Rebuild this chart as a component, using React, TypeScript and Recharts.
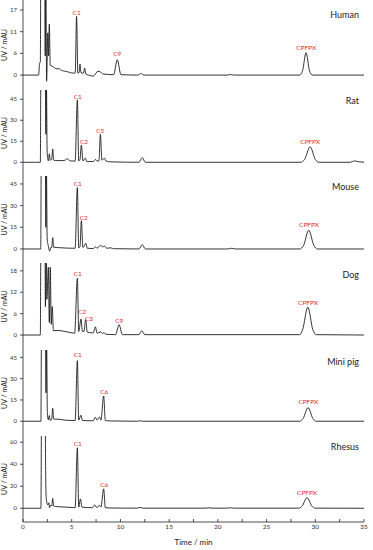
import React from 'react';
import { LineChart, Line, XAxis, YAxis, ReferenceDot } from 'recharts';

// chromatogram traces: [time (min), UV (mAU)]
const humanTrace = [
  [0, 0], [1.6, 0], [1.7, 3], [1.78, 3.5], [1.84, 40], [2.2, 40], [2.28, 5], [2.34, 30], [2.42, -1.6],
  [2.55, 11], [2.62, 5], [2.7, 13.3], [2.8, 2.5], [3.0, 2.3], [3.5, 1.6], [3.7, 1.7], [3.9, 1.3],
  [4.5, 0.9], [5.2, 0.5], [5.36, 0.6], [5.5, 15.3], [5.63, 0.5], [5.75, 0.6], [5.85, 2.9], [5.95, 0.6],
  [6.2, 0.5], [6.33, 1.8], [6.45, 0.3], [7.0, -0.2], [7.2, -0.3], [7.7, 1.0], [7.9, 0.9], [8.2, 0.3],
  [9.3, 0.1], [9.68, 4.0], [10.05, 0.1], [11.8, 0], [12.1, 0.4], [12.4, 0], [21, 0], [21.3, 0.15],
  [21.6, 0], [28.4, 0], [28.7, 1.2], [29.05, 5.85], [29.4, 1.2], [29.7, 0], [35, 0],
];
const ratTrace = [
  [0, 0], [1.78, 0], [1.84, 70], [2.28, 70], [2.35, 20], [2.4, 60], [2.48, 7], [2.6, 1], [2.7, 6],
  [2.8, 1.5], [2.95, 2], [3.05, 9.5], [3.15, 1.5], [3.5, 1.2], [4.2, 1.2], [4.58, 2.5], [4.8, 1],
  [5.35, 0.8], [5.58, 44.5], [5.72, 1], [5.85, 2], [5.99, 12.3], [6.15, 1], [6.4, 3], [6.55, 0.5],
  [7.2, 0.5], [7.46, 2], [7.6, 0.8], [7.8, 1], [7.94, 20], [8.1, 1.5], [8.35, 3], [8.5, 1], [9.0, 0.3],
  [11.9, 0], [12.25, 3.3], [12.55, 0], [28.5, 0], [28.9, 2], [29.47, 11], [30.0, 2], [30.4, 0],
  [33.6, 0], [34, 1], [34.5, 0.3], [35, 0],
];
const mouseTrace = [
  [0, 0], [1.82, 0], [1.88, 70], [2.28, 70], [2.35, 15], [2.4, 60], [2.48, 7.4], [2.6, 2], [2.75, -1.5],
  [2.85, 1], [2.95, 1], [3.05, 7.8], [3.15, 1.2], [4.0, 0.8], [4.5, 0.6], [5.35, 0.5], [5.58, 42.5],
  [5.72, 0.8], [5.85, 1.5], [5.99, 19.6], [6.15, 1], [6.45, 3.9], [6.6, 0.5], [7.2, 0.3], [7.45, 1.5],
  [7.6, 0.5], [7.95, 2.5], [8.15, 1.5], [8.35, 2], [8.6, 0.5], [9.0, 0.8], [9.3, 0.2], [11.9, 0],
  [12.25, 3], [12.55, 0], [21, 0], [21.4, 0.5], [21.8, 0], [28.4, 0], [28.8, 2.5], [29.33, 13],
  [29.85, 2.5], [30.2, 0], [35, 0],
];
const dogTrace = [
  [0, 0], [1.78, 0], [1.84, 30], [2.25, 30], [2.3, 8], [2.38, 30], [2.45, 10], [2.6, 19], [2.7, 3.5],
  [2.8, 19], [2.9, 3], [3.0, 8], [3.12, 1.2], [3.5, 1.3], [4.5, 0.9], [5.3, 0.5], [5.58, 15.9],
  [5.72, 1], [5.95, 4.5], [6.1, 1], [6.25, 1], [6.43, 4.3], [6.6, 0.8], [7.2, 0.6], [7.43, 2.3],
  [7.6, 0.5], [7.98, 0.9], [8.15, 0.4], [8.3, 0.7], [8.5, 0.2], [9.5, 0.1], [9.86, 2.9], [10.2, 0.1],
  [11.9, 0.1], [12.2, 1.2], [12.5, 0.1], [28.4, 0.1], [28.7, 1.5], [29.23, 7.8], [29.75, 1.5],
  [30.1, 0.1], [35, 0],
];
const miniPigTrace = [
  [0, 0], [1.84, 0], [1.9, 70], [2.3, 70], [2.36, 20], [2.42, 60], [2.5, 6], [2.6, 1], [2.7, 4],
  [2.8, 0.5], [2.95, 1.5], [3.05, 9.2], [3.15, 1.5], [3.5, 1.5], [4.3, 0.8], [5.35, 0.5], [5.58, 42.7],
  [5.72, 0.8], [5.95, 4.2], [6.1, 0.5], [7.2, 0.3], [7.43, 2.8], [7.6, 0.8], [7.85, 3], [8.0, 0.8],
  [8.28, 17.8], [8.45, 0.5], [9, 0.2], [11.7, 0], [12.0, 0.3], [12.3, 0], [28.4, 0], [28.75, 2],
  [29.26, 9.6], [29.75, 2], [30.1, 0], [35, 0],
];
const rhesusTrace = [
  [0, 0], [1.84, 0], [1.9, 80], [2.28, 80], [2.33, 28.8], [2.38, 10], [2.45, 5], [2.55, 3], [2.65, 5],
  [2.72, 0.5], [2.85, 3], [2.95, 2], [3.05, 9], [3.15, 2], [3.5, 1.5], [4.5, 1], [5.35, 0.5], [5.58, 55],
  [5.72, 1], [5.9, 8.5], [6.05, 1], [7.1, 0.5], [7.36, 3], [7.55, 0.8], [7.87, 2.5], [8.0, 1],
  [8.28, 17.6], [8.45, 0.5], [9, 0.2], [11.7, 0.1], [12.0, 0.7], [12.3, 0.1], [18.8, 0.1], [19.1, 0.4],
  [19.4, 0.1], [21, 0.1], [21.3, 0.5], [21.6, 0.1], [28.3, 0.1], [28.65, 2], [29.15, 9.7], [29.65, 2],
  [30, 0.1], [35, 0],
];

// peak labels (centre of label text, in data units)
const humanLabels = [{ name: 'C1', t: 5.51, v: 16.3 }, { name: 'C9', t: 9.68, v: 5.5 }, { name: 'CPFPX', t: 29.06, v: 7.1 }];
const ratLabels = [{ name: 'C1', t: 5.62, v: 46.9 }, { name: 'C2', t: 6.26, v: 14.5 }, { name: 'C5', t: 7.94, v: 22.6 }, { name: 'CPFPX', t: 29.47, v: 14.7 }];
const mouseLabels = [{ name: 'C1', t: 5.62, v: 45 }, { name: 'C2', t: 6.23, v: 21.7 }, { name: 'CPFPX', t: 29.36, v: 16.6 }];
const dogLabels = [{ name: 'C1', t: 5.62, v: 17.2 }, { name: 'C2', t: 6.06, v: 6.5 }, { name: 'C3', t: 6.78, v: 4.7 }, { name: 'C9', t: 9.89, v: 4.1 }, { name: 'CPFPX', t: 29.26, v: 9.2 }];
const miniPigLabels = [{ name: 'C1', t: 5.62, v: 46.7 }, { name: 'C6', t: 8.35, v: 20.8 }, { name: 'CPFPX', t: 29.29, v: 14.1 }];
const rhesusLabels = [{ name: 'C1', t: 5.62, v: 59 }, { name: 'C6', t: 8.35, v: 21.2 }, { name: 'CPFPX', t: 29.16, v: 14.2 }];

// ticks
const timeTicks = [0, 2.5, 5, 7.5, 10, 12.5, 15, 17.5, 20, 22.5, 25, 27.5, 30, 32.5, 35];
const humanTicks = [0, 17 / 3, 34 / 3, 17];
const ratTicks = [0, 15, 30, 45];
const mouseTicks = [0, 15, 30, 45];
const dogTicks = [0, 6, 12, 18];
const miniPigTicks = [0, 15, 30, 45];
const rhesusTicks = [0, 20, 40, 60];

const FONT = 'Lato, "Open Sans", sans-serif';
const RED = '#e8262d';
const INK = '#222';

const panels = [
  { name: 'Human', trace: humanTrace, ticks: humanTicks, labels: humanLabels, domain: [-3.9, 19.6], top: 0, height: 90, nameY: 15 },
  { name: 'Rat', trace: ratTrace, ticks: ratTicks, labels: ratLabels, domain: [-9.8, 51.6], top: 90, height: 86, nameY: 101 },
  { name: 'Mouse', trace: mouseTrace, ticks: mouseTicks, labels: mouseLabels, domain: [-9.7, 50.5], top: 176, height: 87, nameY: 187 },
  { name: 'Dog', trace: dogTrace, ticks: dogTicks, labels: dogLabels, domain: [-4.2, 20.2], top: 263, height: 87, nameY: 275 },
  { name: 'Mini pig', trace: miniPigTrace, ticks: miniPigTicks, labels: miniPigLabels, domain: [-10.4, 50.2], top: 350, height: 86, nameY: 362 },
  { name: 'Rhesus', trace: rhesusTrace, ticks: rhesusTicks, labels: rhesusLabels, domain: [-12.5, 65.7], top: 436, height: 86, nameY: 447 },
];

function Panel({ p, last }: { p: any; last: boolean }) {
  const data = p.trace.map(([t, v]: number[]) => ({ t, v }));
  const h = p.height + (last ? 28 : 1);
  return (
    <div style={{ position: 'absolute', left: 0, top: p.top }}>
      <LineChart width={373} height={h} data={data} margin={{ top: 0, right: 9, left: 0, bottom: last ? 0 : 1 }}>
        <XAxis
          type="number"
          dataKey="t"
          domain={[0, 35]}
          ticks={timeTicks}
          interval={0}
          tickSize={-3}
          tickMargin={5}
          height={last ? 28 : 0}
          axisLine={{ stroke: INK, strokeWidth: 0.8 }}
          tickLine={{ stroke: INK, strokeWidth: 0.8 }}
          tick={{ fontSize: 6.5, fill: '#333', fontFamily: FONT }}
          tickFormatter={(t: number) => (last && t % 5 === 0 ? String(t) : '')}
          label={last ? { value: 'Time / min', position: 'insideBottom', offset: 5, fontSize: 8, fill: INK, fontFamily: FONT } : undefined}
        />
        <YAxis
          width={23}
          domain={p.domain}
          ticks={p.ticks}
          allowDataOverflow
          interval={0}
          tickSize={3}
          tickMargin={3}
          axisLine={{ stroke: INK, strokeWidth: 0.8 }}
          tickLine={{ stroke: INK, strokeWidth: 0.8 }}
          tick={{ fontSize: 6, fill: '#333', fontFamily: FONT }}
          tickFormatter={(v: number) => String(Math.round(v))}
          label={{ value: 'UV / mAU', angle: -90, position: 'insideLeft', offset: 5, fontSize: 7, fill: INK, fontFamily: FONT, style: { textAnchor: 'middle' } }}
        />
        <Line dataKey="v" type="monotone" stroke="#111" strokeWidth={0.85} dot={false} isAnimationActive={false} />
        {p.labels.map((l: any) => (
          <ReferenceDot
            key={l.name}
            x={l.t}
            y={l.v}
            r={0}
            fill="none"
            stroke="none"
            label={{ value: l.name, position: 'center', fill: RED, fontSize: 6.5, fontFamily: FONT }}
          />
        ))}
      </LineChart>
      <div style={{ position: 'absolute', right: 14, top: p.nameY - p.top - 6, fontSize: 9, lineHeight: '12px', fontFamily: FONT, color: INK, whiteSpace: 'nowrap' }}>
        {p.name}
      </div>
    </div>
  );
}

export default function App() {
  return (
    <div style={{ position: 'absolute', left: 0, top: 0, width: 373, height: 550, background: '#fff', overflow: 'hidden' }}>
      {panels.map((p, i) => (
        <Panel key={p.name} p={p} last={i === panels.length - 1} />
      ))}
    </div>
  );
}
